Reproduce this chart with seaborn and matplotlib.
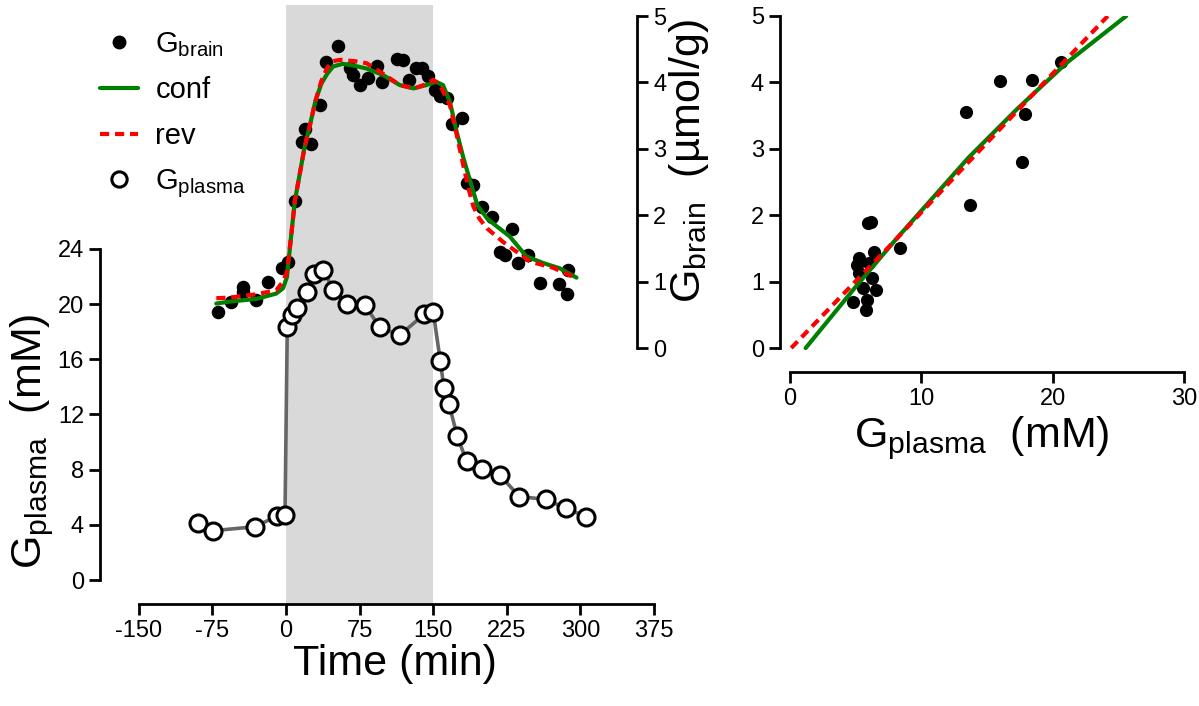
import numpy as np
import pandas as pd
import matplotlib
matplotlib.use("Agg")
import matplotlib.pyplot as plt
from matplotlib.lines import Line2D
import seaborn as sns

sns.set_style("ticks")
plt.rcParams['font.family'] = ['Liberation Sans', 'DejaVu Sans']
plt.rcParams['mathtext.fontset'] = 'custom'
plt.rcParams['mathtext.rm'] = 'Liberation Sans'
plt.rcParams['mathtext.it'] = 'Liberation Sans:italic'
plt.rcParams['axes.unicode_minus'] = False
plt.rcParams['text.color'] = 'black'
plt.rcParams['axes.labelcolor'] = 'black'

# plasma glucose (mM) vs time (min)
plasma_t = [-89.4, -74.7, -31.6, -8.8, -1.0, 1.3, 5.8, 10.9, 21.1, 28.9, 38.0, 48.2, 61.8,
            80.5, 95.8, 116.2, 140.6, 150.1, 157.3, 161.0, 166.1, 174.6, 184.1, 199.4,
            218.1, 237.8, 264.6, 285.3, 305.7]
plasma_g = [4.15, 3.57, 3.86, 4.64, 4.69, 18.3, 19.2, 19.7, 20.9, 22.2, 22.5, 21.0, 20.0,
            19.9, 18.3, 17.75, 19.25, 19.4, 15.85, 13.9, 12.75, 10.4, 8.6, 8.04,
            7.6, 6.04, 5.85, 5.19, 4.59]

# brain glucose (umol/g) vs time (min)
brain_t = [-69, -56.4, -44.1, -43.5, -30.6, -18.0, -4.4, 2.4, 9.2, 16.0, 19.4, 25.2, 34.6,
           40.8, 53.3, 65.2, 68.6, 75.4, 83.9, 92.4, 97.5, 112.8, 119.5, 125.7, 132.5,
           138.3, 145.0, 151.8, 157.0, 163.7, 168.9, 179.0, 184.1, 190.9, 199.4, 209.6,
           218.1, 223.2, 230.0, 236.7, 246.9, 258.8, 278.5, 286.0, 287.7]
brain_g = [0.55, 0.70, 0.92, 0.85, 0.72, 1.00, 1.20, 1.30, 2.21, 3.11, 3.30, 3.08, 3.66,
           4.31, 4.55, 4.21, 4.11, 3.96, 4.06, 4.24, 4.01, 4.36, 4.34, 4.04, 4.22,
           4.22, 4.09, 3.89, 3.79, 3.76, 3.38, 3.46, 2.48, 2.45, 2.13, 1.97,
           1.45, 1.40, 1.80, 1.28, 1.40, 0.98, 0.96, 0.82, 1.18]

# model fits
conf_t = [-71, -57, -30, -10, -3, 1, 5, 9, 14, 19, 24, 30, 36, 42, 48, 58, 70, 82, 99, 116,
          130, 143, 153, 160, 167, 174, 181, 188, 195, 205, 215, 228, 245, 262, 279, 296]
conf_g = [0.67, 0.70, 0.74, 0.82, 0.90, 1.07, 1.65, 2.21, 2.62, 3.03, 3.33, 3.72, 3.98, 4.13,
          4.24, 4.28, 4.25, 4.21, 4.11, 3.96, 3.91, 3.96, 4.01, 3.96, 3.71, 3.25, 2.85, 2.50,
          2.15, 1.95, 1.83, 1.68, 1.38, 1.28, 1.20, 1.06]
rev_t = [-71, -57, -30, -10, -3, 1, 5, 9, 14, 19, 24, 30, 36, 42, 48, 55, 70, 82, 96, 116,
         131, 142, 150, 157, 167, 174, 181, 186, 191, 197, 205, 221, 235, 249, 272, 293]
rev_g = [0.75, 0.76, 0.81, 0.87, 1.00, 1.15, 1.65, 2.21, 2.62, 3.03, 3.33, 3.72, 4.02, 4.22,
         4.32, 4.34, 4.32, 4.29, 4.16, 3.96, 3.91, 3.97, 4.04, 3.96, 3.66, 3.21, 2.73, 2.40,
         2.13, 1.95, 1.80, 1.60, 1.45, 1.30, 1.21, 1.07]

# brain vs plasma
pair_plasma = [20.6, 16.0, 18.4, 13.4, 17.9, 17.7, 13.7, 5.95, 6.15, 8.39, 6.4, 5.28, 5.07,
               6.03, 5.28, 6.28, 5.53, 6.58, 4.82, 5.90, 5.78]
pair_brain = [4.30, 4.02, 4.04, 3.56, 3.52, 2.80, 2.16, 1.89, 1.90, 1.50, 1.45, 1.35, 1.25,
              1.28, 1.13, 1.06, 0.90, 0.87, 0.70, 0.72, 0.57]
fit_conf_x = [1.2, 5.0, 8.04, 13.56, 17.3, 21.1, 25.6]
fit_conf_y = [0.0, 0.92, 1.63, 2.86, 3.60, 4.30, 5.0]
fit_rev_x = [0.1, 8.0, 13.6, 17.3, 21.1, 24.2]
fit_rev_y = [0.0, 1.62, 2.80, 3.57, 4.36, 5.0]

green = '#008000'
red = '#ff0000'
rev_dash = (0, (2.2, 1.4))
W, H = 1199, 706
label_fs = 31
tick_fs = 17

fig = plt.figure(figsize=(W / 100, H / 100), dpi=100)

# ---- left panel: time course ----
ax_p = fig.add_axes([100 / W, (H - 604) / H, 555 / W, 599 / H])
ax_b = ax_p.twinx()

ax_p.axvspan(0, 150, color='#d9d9d9', lw=0, zorder=0)
sns.lineplot(x=plasma_t, y=plasma_g, ax=ax_p, color='#666666', lw=2.6,
             sort=False, estimator=None, zorder=2)
sns.scatterplot(x=plasma_t, y=plasma_g, ax=ax_p, color='white', edgecolor='black',
                linewidth=2.2, s=150, zorder=3)

sns.scatterplot(x=brain_t, y=brain_g, ax=ax_b, color='black', edgecolor='black',
                linewidth=0, s=95, zorder=3)
sns.lineplot(x=conf_t, y=conf_g, ax=ax_b, color=green, lw=3, sort=False,
             estimator=None, zorder=4)
sns.lineplot(x=rev_t, y=rev_g, ax=ax_b, color=red, lw=3, linestyle=rev_dash,
             sort=False, estimator=None, zorder=5)

ax_p.set_xlim(-189.5, 376)
ax_p.set_ylim(-1.739, 41.67)
ax_b.set_ylim(-3.855, 5.166)
ax_p.set_xticks(np.arange(-150, 376, 75))
ax_p.set_yticks(np.arange(0, 25, 4))
ax_b.set_yticks(np.arange(0, 6, 1))

for s in ['top', 'right']:
    ax_p.spines[s].set_visible(False)
for s in ['top', 'left', 'bottom']:
    ax_b.spines[s].set_visible(False)
ax_p.spines['left'].set_bounds(0, 24)
ax_p.spines['bottom'].set_bounds(-150, 375)
ax_b.spines['right'].set_position(('data', 357.7))
ax_b.spines['right'].set_bounds(0, 5)
for ax in (ax_p, ax_b):
    for sp in ax.spines.values():
        sp.set_linewidth(2)
        sp.set_color('black')
    ax.tick_params(direction='out', length=8, width=2, labelsize=tick_fs, colors='black')

ax_p.set_xlabel('Time (min)', fontsize=label_fs)
ax_p.xaxis.set_label_coords(0.532, -0.066)
ax_p.set_ylabel(r'G$_{\mathrm{plasma}}$  (mM)', fontsize=label_fs)
ax_p.yaxis.set_label_coords(-0.079, 0.272)
ax_b.set_ylabel(r'G$_{\mathrm{brain}}$  (µmol/g)', fontsize=label_fs)
ax_b.yaxis.set_label_coords(1.022, 0.74)

handles = [
    Line2D([], [], marker='o', ls='none', color='black', markersize=9),
    Line2D([], [], color=green, lw=3),
    Line2D([], [], color=red, lw=3, ls=rev_dash),
    Line2D([], [], marker='o', ls='none', markerfacecolor='white',
           markeredgecolor='black', markeredgewidth=2.2, markersize=11),
]
labels = [r'G$_{\mathrm{brain}}$', 'conf', 'rev', r'G$_{\mathrm{plasma}}$']
fig.legend(handles, labels, loc='upper left', bbox_to_anchor=(100 / W, 1 - 30 / H),
           frameon=False, fontsize=21, handlelength=1.3, handletextpad=0.6,
           labelspacing=0.6, borderpad=0, borderaxespad=0)

# ---- right panel: brain vs plasma ----
ax_r = fig.add_axes([780 / W, (H - 372) / H, 404 / W, 356 / H])
sns.scatterplot(x=pair_plasma, y=pair_brain, ax=ax_r, color='black', edgecolor='black',
                linewidth=0, s=90, zorder=3)
sns.lineplot(x=fit_conf_x, y=fit_conf_y, ax=ax_r, color=green, lw=3, sort=False,
             estimator=None, zorder=4)
sns.lineplot(x=fit_rev_x, y=fit_rev_y, ax=ax_r, color=red, lw=3, linestyle=rev_dash,
             sort=False, estimator=None, zorder=5)
ax_r.set_xlim(-0.754, 30.0)
ax_r.set_ylim(-0.361, 5.0)
ax_r.set_xticks([0, 10, 20, 30])
ax_r.set_yticks(np.arange(0, 6, 1))
for s in ['top', 'right']:
    ax_r.spines[s].set_visible(False)
ax_r.spines['left'].set_bounds(0, 5)
ax_r.spines['bottom'].set_bounds(0, 30)
for sp in ax_r.spines.values():
    sp.set_linewidth(2)
    sp.set_color('black')
ax_r.tick_params(direction='out', length=8, width=2, labelsize=tick_fs, colors='black')
ax_r.set_xlabel(r'G$_{\mathrm{plasma}}$  (mM)', fontsize=label_fs)
ax_r.xaxis.set_label_coords(0.5, -0.12)

fig.savefig('out.png', dpi=100)
